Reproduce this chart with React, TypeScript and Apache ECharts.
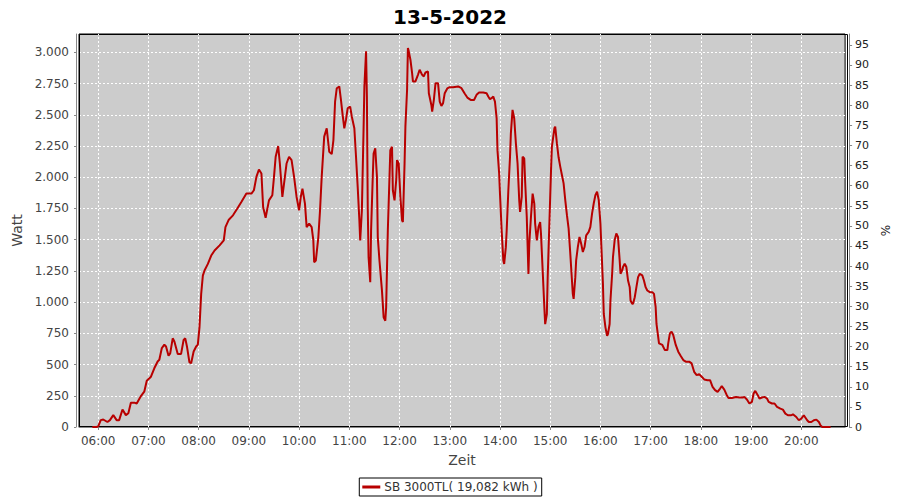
import React, { useEffect, useRef } from "react";
import * as echarts from "echarts";

const times = [
  "05:53","05:58","06:00","06:03","06:06","06:11","06:14","06:18","06:22","06:25","06:29","06:33","06:36","06:39","06:43","06:46","06:51","06:55","06:58",
  "07:03","07:07","07:11","07:13","07:16","07:19","07:21","07:24","07:26","07:29","07:31","07:35","07:39","07:42","07:44","07:46","07:49","07:51","07:54","07:57","07:59",
  "08:01","08:03","08:05","08:07","08:11","08:15","08:19","08:25","08:30","08:32","08:36","08:41","08:46","08:51","08:57",
  "09:03","09:06","09:09","09:12","09:15","09:17","09:20","09:24","09:28","09:30","09:32","09:35","09:37","09:40","09:42","09:45","09:48","09:51","09:54","09:57",
  "10:00","10:02","10:04","10:07","10:09","10:12","10:15","10:17","10:18","10:20","10:23","10:25","10:27","10:30","10:33","10:36","10:39","10:41","10:43","10:45","10:48","10:50","10:52","10:54","10:56","10:58",
  "11:01","11:03","11:06","11:08","11:10","11:12","11:13","11:15","11:17","11:18","11:20","11:21","11:22","11:23","11:25","11:26","11:28","11:29","11:31","11:33","11:34","11:36","11:37","11:39","11:41","11:43","11:44","11:46","11:48","11:49","11:51","11:52","11:54","11:56","11:57","11:59",
  "12:01","12:03","12:04","12:06","12:07","12:09","12:10","12:11","12:13","12:15","12:16","12:19","12:22","12:24","12:27","12:29","12:31","12:34","12:35","12:38","12:39","12:41","12:43","12:46","12:48","12:50","12:52","12:54","12:57",
  "13:00","13:04","13:10","13:14","13:18","13:21","13:25","13:29","13:32","13:35","13:40","13:44","13:46","13:48","13:50","13:52","13:54","13:56","13:57","13:59",
  "14:00","14:02","14:04","14:05","14:07","14:08","14:10","14:12","14:13","14:15","14:17","14:19","14:21","14:23","14:24","14:26","14:27","14:29","14:30","14:32","14:34","14:35","14:37","14:39","14:41","14:42","14:44","14:46","14:48","14:49","14:51","14:53","14:54","14:56","14:57","14:59",
  "15:01","15:02","15:05","15:06","15:08","15:10","15:12","15:14","15:16","15:18","15:20","15:22","15:24","15:26","15:27","15:28","15:30","15:31","15:33","15:35","15:37","15:39","15:41","15:43","15:46","15:48","15:50","15:52","15:54","15:56","15:58",
  "16:00","16:01","16:03","16:04","16:06","16:08","16:09","16:11","16:12","16:14","16:15","16:17","16:19","16:21","16:23","16:24","16:26","16:27","16:29","16:31","16:33","16:35","16:36","16:38","16:39","16:41","16:43","16:45","16:47","16:50","16:52","16:54","16:56","16:59",
  "17:02","17:04","17:06","17:07","17:10","17:14","17:17","17:20","17:21","17:23","17:25","17:27","17:30","17:33","17:36","17:39","17:42","17:46","17:49","17:52","17:55","17:58",
  "18:01","18:04","18:08","18:11","18:14","18:17","18:20","18:23","18:25","18:28","18:31","18:33","18:37","18:42","18:46","18:50","18:52","18:55","18:58",
  "19:01","19:03","19:05","19:08","19:10","19:13","19:16","19:19","19:21","19:25","19:28","19:31","19:35","19:38","19:41","19:44","19:48","19:50","19:54","19:57",
  "20:00","20:03","20:07","20:09","20:12","20:15","20:18","20:21","20:23","20:25","20:35"
];

const watts = [
  0,0,5,55,60,40,55,95,55,55,140,95,110,194,195,188,248,283,371,
  403,470,525,538,632,659,645,570,590,710,685,585,585,697,710,645,517,511,605,645,659,
  800,1065,1212,1253,1306,1373,1413,1454,1494,1601,1660,1695,1748,1802,1869,
  1869,1896,2003,2062,2030,1762,1676,1815,1856,2003,2164,2250,2110,1842,1949,2110,2164,2137,2003,1842,
  1735,1842,1909,1789,1601,1628,1601,1494,1320,1333,1521,1735,2003,2325,2392,2204,2185,2298,2606,2713,2727,2620,2499,2392,2459,2552,
  2566,2485,2392,2164,1923,1655,1494,1735,2378,2727,3008,2646,1762,1360,1159,1574,2003,2190,2231,2003,1521,1333,1253,1092,878,851,958,1574,2003,2217,2244,1896,1815,1976,2137,2110,
  1842,1655,1641,2110,2405,2700,3035,3008,2941,2834,2767,2767,2820,2861,2820,2807,2839,2847,2673,2579,2526,2620,2753,2753,2606,2571,2593,2673,2711,
  2721,2721,2727,2713,2668,2638,2619,2619,2660,2678,2678,2673,2646,2625,2633,2646,2606,2472,2217,2030,
  1869,1574,1333,1306,1440,1574,1896,2164,2351,2539,2472,2271,2110,1815,1722,1842,2164,2150,1976,1682,1226,1467,1682,1869,1789,1628,1494,1601,1641,1547,1253,958,824,905,1199,1628,
  2057,2244,2392,2405,2271,2160,2085,2018,1951,1817,1696,1589,1388,1173,1066,1026,1200,1334,1441,1522,1468,1401,1441,1535,1562,1602,1709,1790,1857,1884,1817,
  1629,1468,1147,905,798,731,745,825,1013,1227,1361,1495,1549,1522,1334,1227,1254,1281,1307,1281,1173,1120,1013,986,986,1039,1120,1200,1227,1214,1173,1120,1093,1080,
  1080,1066,959,825,670,657,616,616,670,750,764,737,657,603,568,536,523,523,509,442,415,423,
  402,381,375,375,322,295,281,308,327,300,255,233,233,241,236,236,241,220,188,
  201,268,289,255,228,236,241,228,201,188,188,161,147,139,107,94,94,102,80,54,
  67,94,54,40,40,54,59,40,13,0,0
];

const hourTicks = [
  "06:00","07:00","08:00","09:00","10:00","11:00","12:00","13:00",
  "14:00","15:00","16:00","17:00","18:00","19:00","20:00"
];

const leftTicksW = { min: 0, max: 3147, interval: 250 };
const rightTicksPct = { min: 0, max: 97.7, interval: 5 };
const titleText = "13-5-2022";
const seriesName = "SB 3000TL( 19,082 kWh )";

const ts = (hhmm: string, sec = 0) => {
  const [h, m] = hhmm.split(":").map(Number);
  return new Date(2022, 4, 13, h, m, sec).getTime();
};

const pad2 = (n: number) => (n < 10 ? "0" + n : "" + n);

const fmtWatt = (v: number) => {
  const r = Math.round(v);
  if (r >= 1000) {
    const k = Math.floor(r / 1000);
    const rest = r % 1000;
    return k + "." + String(rest).padStart(3, "0");
  }
  return String(r);
};

const GRID = { left: 79, right: 52, top: 34, bottom: 73 };

export default function App() {
  const ref = useRef<HTMLDivElement>(null);
  useEffect(() => {
    document.body.style.margin = "0";
    if (!ref.current) return;
    const chart = echarts.init(ref.current, undefined, { renderer: "svg" });
    const data = times.map((t, i) => [ts(t), watts[i]]);
    const font = "DejaVu Sans";
    const gridLine = { color: "#ffffff", width: 1, type: [2, 2] };
    chart.setOption({
      animation: false,
      backgroundColor: "#ffffff",
      title: {
        text: titleText,
        left: "center",
        top: 2,
        textStyle: { fontSize: 20, fontWeight: "bold", color: "#000", fontFamily: font },
      },
      legend: {
        left: "center",
        top: 478,
        padding: [3, 4, 3, 3],
        itemGap: 4,
        itemWidth: 18,
        itemHeight: 3,
        icon: "rect",
        borderColor: "#000",
        borderWidth: 1,
        borderRadius: 0,
        textStyle: { fontSize: 12, color: "#333", fontFamily: font, padding: [0, 0, 0, -1] },
        data: [seriesName],
      },
      grid: {
        left: GRID.left,
        right: GRID.right,
        top: GRID.top,
        bottom: GRID.bottom,
        show: true,
        backgroundColor: "#cccccc",
        borderColor: "#000",
        borderWidth: 1,
      },
      graphic: [
        {
          type: "rect",
          z: 1,
          silent: true,
          shape: {
            x: GRID.left + 0.5,
            y: GRID.top + 0.5,
            width: 900 - GRID.left - GRID.right - 1,
            height: 500 - GRID.top - GRID.bottom - 1,
          },
          style: { fill: "none", stroke: "#000", lineWidth: 1 },
        },
      ],
      xAxis: {
        type: "time",
        min: ts("05:37", 2),
        max: ts("20:52", 20),
        minInterval: 3600 * 1000,
        maxInterval: 3600 * 1000,
        offset: 4,
        name: "Zeit",
        nameLocation: "middle",
        nameGap: 22,
        nameTextStyle: { fontSize: 14, color: "#444", fontFamily: font },
        axisLine: { show: true, lineStyle: { color: "#888", width: 1 } },
        axisTick: { show: true, length: 3, lineStyle: { color: "#888" } },
        axisLabel: {
          color: "#444",
          fontSize: 12,
          fontFamily: font,
          margin: 4,
          showMinLabel: false,
          showMaxLabel: false,
          formatter: (v: number) => {
            const d = new Date(v);
            return pad2(d.getHours()) + ":" + pad2(d.getMinutes());
          },
        },
        splitLine: { show: false },
      },
      yAxis: [
        {
          type: "value",
          min: leftTicksW.min,
          max: leftTicksW.max,
          interval: leftTicksW.interval,
          offset: 3,
          name: "Watt",
          nameLocation: "middle",
          nameRotate: 90,
          nameGap: 48,
          nameTextStyle: { fontSize: 14, color: "#444", fontFamily: font },
          axisLine: { show: true, lineStyle: { color: "#888", width: 1 } },
          axisTick: { show: true, length: 2, lineStyle: { color: "#888" } },
          axisLabel: {
            color: "#444",
            fontSize: 12,
            fontFamily: font,
            margin: 7,
            showMaxLabel: false,
            formatter: fmtWatt,
          },
          splitLine: { show: true, showMinLine: false, showMaxLine: false, lineStyle: gridLine },
        },
        {
          type: "value",
          position: "right",
          min: rightTicksPct.min,
          max: rightTicksPct.max,
          interval: rightTicksPct.interval,
          offset: 4,
          name: "%",
          nameLocation: "middle",
          nameRotate: 90,
          nameGap: 26,
          nameTextStyle: { fontSize: 12, color: "#222", fontFamily: font },
          axisLine: { show: true, lineStyle: { color: "#888", width: 1 } },
          axisTick: { show: true, length: 3, lineStyle: { color: "#888" } },
          axisLabel: {
            color: "#222",
            fontSize: 11,
            fontFamily: font,
            margin: 6,
            showMaxLabel: false,
          },
          splitLine: { show: false },
        },
      ],
      series: [
        {
          name: "hourGrid",
          type: "line",
          z: 1,
          data: [],
          silent: true,
          markLine: {
            z: 1,
            silent: true,
            symbol: "none",
            label: { show: false },
            lineStyle: gridLine,
            emphasis: { disabled: true },
            data: hourTicks.map((t) => ({ xAxis: ts(t) })),
          },
        },
        {
          name: seriesName,
          type: "line",
          yAxisIndex: 0,
          z: 3,
          showSymbol: false,
          symbol: "none",
          data,
          color: "#b80000",
          lineStyle: { color: "#b80000", width: 2 },
        },
      ],
    });
    return () => chart.dispose();
  }, []);
  return <div ref={ref} style={{ width: 900, height: 500 }} />;
}
